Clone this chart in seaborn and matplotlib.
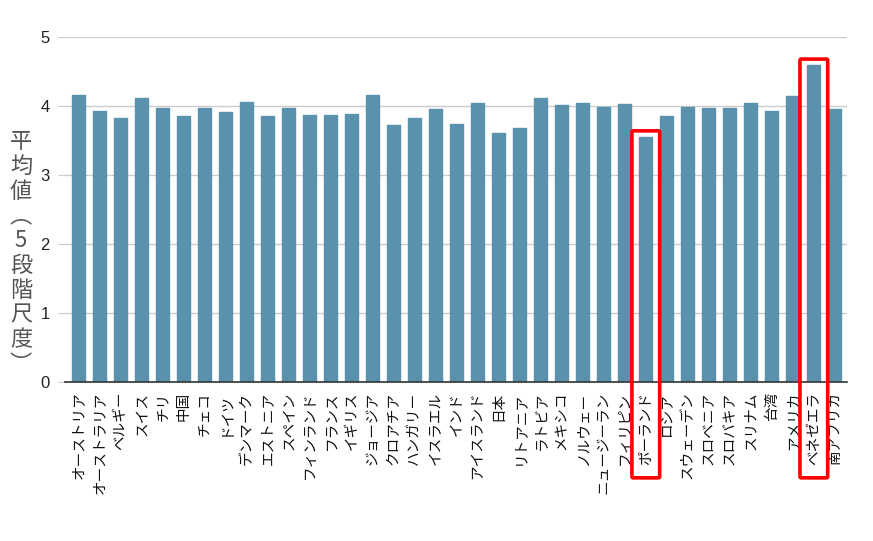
import matplotlib
matplotlib.use("Agg")
import matplotlib.pyplot as plt
from matplotlib.patches import FancyBboxPatch
import seaborn as sns
import pandas as pd

# Country names (x categories)
countries = [
    "オーストリア", "オーストラリア", "ベルギー", "スイス", "チリ", "中国", "チェコ",
    "ドイツ", "デンマーク", "エストニア", "スペイン", "フィンランド", "フランス",
    "イギリス", "ジョージア", "クロアチア", "ハンガリー", "イスラエル", "インド",
    "アイスランド", "日本", "リトアニア", "ラトビア", "メキシコ", "ノルウェー",
    "ニュージーラン", "フィリピン", "ポーランド", "ロシア", "スウェーデン",
    "スロベニア", "スロバキア", "スリナム", "台湾", "アメリカ", "ベネゼエラ",
    "南アフリカ",
]

# Mean score on a 5-point scale
means = [
    4.16, 3.93, 3.82, 4.12, 3.97, 3.85, 3.97, 3.91, 4.06, 3.85, 3.97, 3.87, 3.87,
    3.89, 4.16, 3.72, 3.82, 3.95, 3.74, 4.05, 3.61, 3.68, 4.12, 4.01, 4.05, 3.99,
    4.03, 3.55, 3.86, 3.99, 3.97, 3.97, 4.05, 3.93, 4.14, 4.59, 3.95,
]

# Countries framed in red
highlighted = ["ポーランド", "ベネゼエラ"]

y_ticks = [0, 1, 2, 3, 4, 5]
y_label = "平均値︵5段階尺度︶"

df = pd.DataFrame({"country": countries, "mean": means})

sns.set_theme(style="white")
plt.rcParams["font.family"] = ["Noto Sans CJK JP", "DejaVu Sans"]

fig = plt.figure(figsize=(8.73, 5.41), dpi=100)
ax = fig.add_axes([0.0745, 0.294, 0.8955, 0.6376])

bar_color = "#5a91ad"
sns.barplot(data=df, x="country", y="mean", color=bar_color, width=0.62,
            saturation=1, ax=ax, zorder=3)
for p in ax.patches:
    p.set_edgecolor(bar_color)
    p.set_linewidth(1.0)
    p.set_joinstyle("round")

ax.set_ylim(0, 5)
ax.set_xlim(-0.65, len(countries) - 1 + 0.57)
ax.set_yticks(y_ticks)
ax.set_yticklabels([str(t) for t in y_ticks], family=["Liberation Sans"],
                   fontsize=12, color="#222222")
ax.yaxis.grid(True, color="#cccccc", linewidth=1.0, zorder=0)
ax.xaxis.grid(False)
for s in ["top", "right", "left"]:
    ax.spines[s].set_visible(False)
ax.spines["bottom"].set_color("#333333")
ax.spines["bottom"].set_linewidth(1.2)
ax.spines["bottom"].set_zorder(4)

ax.tick_params(axis="y", which="both", left=True, length=5, width=0.8,
               color="#cccccc", pad=6)
ax.tick_params(axis="x", bottom=False, pad=1)
ax.set_xticks(range(len(countries)))
ax.set_xticklabels(countries, rotation=90, fontsize=10.5, color="#111111",
                   va="top", ha="center")
ax.set_xlabel("")
ax.set_ylabel("")

# Vertical axis title, one character per line
fig.text(0.024, 0.532, "\n".join(y_label), fontsize=16, color="#555555",
         ha="center", va="center", linespacing=1.1)

# Red frames around selected bars, extending into the label area
for name in highlighted:
    i = countries.index(name)
    v = means[i]
    box = FancyBboxPatch((i - 0.66, -1.39), 1.32, v + 0.09 + 1.39,
                         boxstyle="round,pad=0,rounding_size=0.06",
                         fill=False, edgecolor="#ff0000", linewidth=2.6,
                         clip_on=False, zorder=6, mutation_aspect=0.3)
    ax.add_patch(box)

fig.savefig("out.png", dpi=100)
